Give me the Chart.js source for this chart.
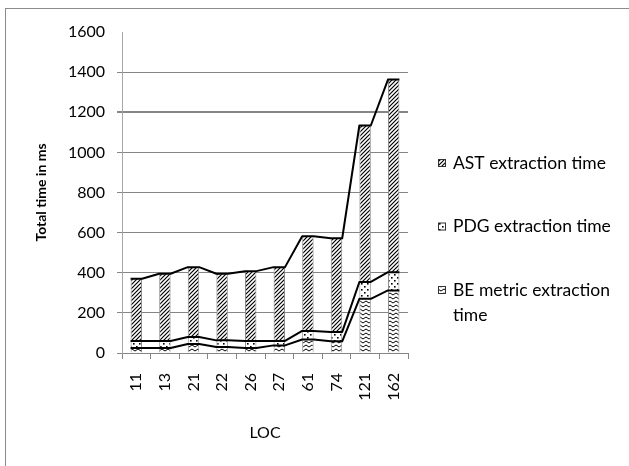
<!DOCTYPE html>
<html>
<head>
<meta charset="utf-8">
<script src="https://cdn.jsdelivr.net/npm/chart.js@4.4.1/dist/chart.umd.min.js"></script>
<style>
  html, body { margin: 0; padding: 0; background: #fff; }
  #wrap { width: 629px; height: 466px; }
</style>
</head>
<body>
<div id="wrap"><canvas id="chart" width="629" height="466"></canvas></div>
<script>
// Lines of code per sample program (x categories)
const locLabels = ['11', '13', '21', '22', '26', '27', '61', '74', '121', '162'];

// Time per stage, in ms (stacked bottom to top)
const beMetricTime = [25, 25, 45, 30, 25, 38, 67, 58, 270, 312];
const pdgTime      = [35, 35, 35, 33, 35, 22, 43, 47, 84, 91];
const astTime      = [310, 335, 348, 332, 348, 368, 472, 467, 780, 960];

const seriesNames = ['BE metric extraction time', 'PDG extraction time', 'AST extraction time'];
const yMin = 0, yMax = 1600, yStep = 200;

const FONT = 'Lato';
const GRID = '#858585';

// ---- fill patterns ----
function makePattern(w, h, paint) {
  const c = document.createElement('canvas');
  c.width = w; c.height = h;
  const g = c.getContext('2d');
  g.fillStyle = '#fff';
  g.fillRect(0, 0, w, h);
  paint(g);
  return document.getElementById('chart').getContext('2d').createPattern(c, 'repeat');
}
// diagonal hatch
const astFill = makePattern(4, 4, g => {
  g.strokeStyle = '#000'; g.lineWidth = 1.2;
  g.beginPath();
  g.moveTo(-1, 5); g.lineTo(5, -1);
  g.moveTo(-1, 1); g.lineTo(1, -1);
  g.moveTo(3, 5); g.lineTo(5, 3);
  g.stroke();
});
// sparse dots
const pdgFill = makePattern(6, 6, g => {
  g.fillStyle = '#000';
  g.fillRect(1, 1, 1.6, 1.6);
  g.fillRect(4, 4, 1.6, 1.6);
});
// zigzag waves
const beFill = makePattern(6, 4, g => {
  g.strokeStyle = '#000'; g.lineWidth = 1;
  g.beginPath();
  g.moveTo(0, 1); g.lineTo(3, 3); g.lineTo(6, 1);
  g.stroke();
});
const fills = [beFill, pdgFill, astFill];

// ---- plugins ----
const frame = {
  id: 'frame',
  beforeDraw(chart) {
    const ctx = chart.ctx;
    ctx.save();
    ctx.fillStyle = '#fff';
    ctx.fillRect(0, 0, chart.width, chart.height);
    ctx.strokeStyle = '#8c8c8c';
    ctx.lineWidth = 1;
    ctx.strokeRect(5.5, 8.5, chart.width + 20, chart.height + 20);
    ctx.restore();
  }
};

// lines joining the top of each stacked segment across all bars
const seriesLines = {
  id: 'seriesLines',
  afterDatasetsDraw(chart) {
    const ctx = chart.ctx;
    ctx.save();
    ctx.strokeStyle = '#000';
    ctx.lineWidth = 2;
    ctx.lineJoin = 'round';
    chart.data.datasets.forEach((ds, i) => {
      const bars = chart.getDatasetMeta(i).data;
      ctx.beginPath();
      bars.forEach((b, j) => {
        const l = b.x - b.width / 2, r = b.x + b.width / 2;
        if (j === 0) ctx.moveTo(l, b.y); else ctx.lineTo(l, b.y);
        ctx.lineTo(r, b.y);
      });
      ctx.stroke();
    });
    ctx.restore();
  }
};

// legend at the right, top series first, long names wrapped
const sideLegend = {
  id: 'sideLegend',
  afterDraw(chart) {
    const ctx = chart.ctx;
    const o = chart.options.plugins.sideLegend;
    ctx.save();
    ctx.font = o.size + 'px ' + FONT;
    ctx.textBaseline = 'middle';
    ctx.fillStyle = '#000';
    const n = chart.data.datasets.length;
    for (let k = 0; k < n; k++) {
      const ds = chart.data.datasets[n - 1 - k];
      const y = o.top + k * o.gap;
      const words = ds.label.split(' ');
      const lines = [];
      let cur = '';
      words.forEach(w => {
        const t = cur ? cur + ' ' + w : w;
        if (ctx.measureText(t).width > o.maxWidth && cur) { lines.push(cur); cur = w; }
        else cur = t;
      });
      lines.push(cur);
      lines.forEach((ln, li) => ctx.fillText(ln, o.textX, y + li * o.lineHeight));
      // marker
      ctx.fillStyle = ds.backgroundColor;
      ctx.fillRect(o.boxX, y - 4, 8, 8);
      ctx.strokeStyle = '#333';
      ctx.lineWidth = 1;
      ctx.strokeRect(o.boxX + 0.5, y - 3.5, 7, 7);
      ctx.fillStyle = '#000';
    }
    ctx.restore();
  }
};

const tickFont = { family: FONT, size: 16 };

new Chart(document.getElementById('chart'), {
  type: 'bar',
  data: {
    labels: locLabels,
    datasets: [beMetricTime, pdgTime, astTime].map((d, i) => ({
      label: seriesNames[i],
      data: d,
      backgroundColor: fills[i],
      borderColor: '#8c8c8c',
      borderWidth: { left: 1, right: 1, top: 0, bottom: 0 },
      borderSkipped: false,
      categoryPercentage: 1,
      barPercentage: 0.4
    }))
  },
  options: {
    responsive: false,
    animation: false,
    layout: { padding: { top: 32, left: 0, right: 221, bottom: 0 } },
    plugins: {
      legend: { display: false },
      tooltip: { enabled: false },
      sideLegend: { top: 163, gap: 63.5, textX: 453, boxX: 438, size: 17.5, lineHeight: 25, maxWidth: 170 }
    },
    scales: {
      x: {
        stacked: true,
        afterFit(s) { s.height = 113; },
        grid: { offset: true, drawOnChartArea: false, tickLength: 6, color: GRID },
        border: { color: GRID },
        ticks: { minRotation: 90, maxRotation: 90, padding: 14, color: '#000', font: tickFont, autoSkip: false },
        title: { display: true, text: 'LOC', color: '#000', font: { family: FONT, size: 16 }, padding: { top: 0, bottom: 24 } }
      },
      y: {
        stacked: true,
        min: yMin, max: yMax,
        afterFit(s) { s.width = 122; },
        grid: {
          color: c => (c.tick && c.tick.value === yMax) ? 'rgba(0,0,0,0)' : GRID,
          lineWidth: c => (c.tick && c.tick.value === 1200) ? 2 : 1,
          tickLength: 5
        },
        border: { color: '#a6a6a6' },
        ticks: { stepSize: yStep, padding: 12, color: '#000', font: tickFont, callback: v => String(v) },
        title: { display: true, text: 'Total time in ms', color: '#000', font: { family: FONT, size: 14, weight: 'bold' }, padding: { top: 33, bottom: 0 } }
      }
    }
  },
  plugins: [frame, seriesLines, sideLegend]
});
</script>
</body>
</html>
